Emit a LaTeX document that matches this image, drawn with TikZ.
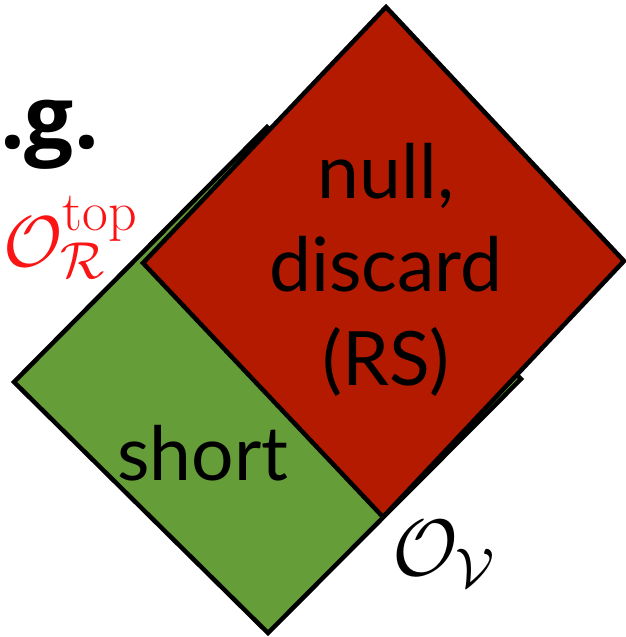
\RequirePackage{fix-cm}
\documentclass[tikz,border=0pt]{standalone}
\usepackage{fontspec}
\newfontfamily\gill{Lato}
\newfontfamily\egfont{Open Sans}
\definecolor{redfill}{RGB}{180,26,0}
\definecolor{greenfill}{RGB}{101,157,56}
\definecolor{labelred}{RGB}{250,20,20}
\begin{document}
\begin{tikzpicture}[x=1pt,y=-1pt,
  region/.style={draw=black,line width=4.5pt,line join=miter},
  regiontext/.style={font=\gill\fontsize{75}{93.5}\selectfont,align=center,inner sep=0pt},
  mathlabel/.style={inner sep=0pt}]
\useasboundingbox (0,0) rectangle (625,637);
% green diamond
\coordinate (gL) at (14,382);
\coordinate (gT) at (267,127);
\coordinate (gR) at (521,379);
\coordinate (gB) at (268,633);
\filldraw[region,fill=greenfill] (gL) -- (gT) -- (gR) -- (gB) -- cycle;
% red region
\coordinate (rT) at (386,7);
\coordinate (rR) at (624,261);
\coordinate (rB) at (383,517);
\coordinate (rL) at (143,263);
\filldraw[region,fill=redfill] (rT) -- (rR) -- (rB) -- (rL) -- cycle;
% texts
\node[regiontext,anchor=base] (null) at (386,385) {null,\\discard\\(RS)};
\node[regiontext,anchor=base] (short) at (203,480) {short};
\node[mathlabel,anchor=base west,text=labelred] (otop) at (3,266)
  {\fontsize{72}{84}\selectfont$\mathcal{O}^{\mbox{\fontsize{56}{60}\selectfont top}}_{\mbox{\fontsize{52}{56}\selectfont$\mathcal{R}$}}$};
\node[mathlabel,anchor=base west] (ov) at (392,575)
  {\fontsize{80}{92}\selectfont$\mathcal{O}_{\mathcal{V}}$};
\node[mathlabel,anchor=base west] (eg) at (0,148)
  {\egfont\bfseries\fontsize{87}{90}\selectfont .g.};
\end{tikzpicture}
\end{document}
